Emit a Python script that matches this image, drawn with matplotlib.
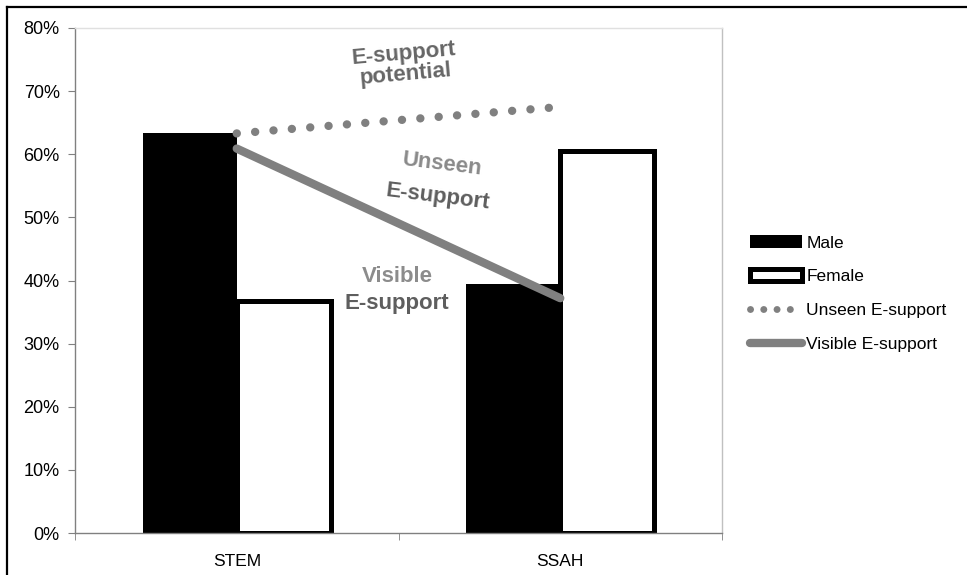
import numpy as np
import matplotlib
matplotlib.use("Agg")
import matplotlib.pyplot as plt
from matplotlib.lines import Line2D

plt.rcParams['font.family'] = ['Liberation Sans', 'DejaVu Sans']

# data
categories = ['STEM', 'SSAH']
male = [63.3, 39.5]
female = [36.7, 60.5]
unseen = [63.3, 67.5]   # dotted "E-support potential" line
visible = [60.9, 37.2]  # solid visible line

fig = plt.figure(figsize=(9.67, 5.75), dpi=100)
ax = fig.add_axes([75 / 967, 42 / 575, 647 / 967, 505 / 575])

x = np.arange(len(categories))
w = 0.29
b1 = ax.bar(x - w / 2, male, w, color='black', edgecolor='black', linewidth=0, label='Male')
b2 = ax.bar(x + w / 2, female, w, color='white', edgecolor='black', linewidth=3.6,
            label='Female', zorder=2)

ax.plot(x, unseen, color='#808080', lw=6, linestyle=(0, (0.01, 2.2)),
        dash_capstyle='round', zorder=3)
l2, = ax.plot(x, visible, color='#808080', lw=6, solid_capstyle='round',
              label='Visible E-support', zorder=3)
# tighter dots for the legend key
l1 = Line2D([], [], color='#808080', lw=5, linestyle=(0, (0.01, 1.9)),
            dash_capstyle='round', label='Unseen E-support')

ax.set_xlim(-0.5, 1.5)
ax.set_ylim(0, 80)
ax.set_yticks(range(0, 81, 10))
ax.set_yticklabels([f'{v}%' for v in range(0, 81, 10)], fontsize=13)
ax.set_xticks(x)
ax.set_xticklabels(categories, fontsize=12.5)
ax.set_xticks([-0.5, 0.5, 1.5], minor=True)
ax.tick_params(axis='x', which='major', length=0, pad=15)
ax.tick_params(axis='x', which='minor', length=5, direction='out', color='#808080')
ax.tick_params(axis='y', length=5, direction='out', color='#808080', pad=6)

ax.spines['left'].set_color('#808080')
ax.spines['bottom'].set_color('#808080')
ax.spines['top'].set_color('#e0e0e0')
ax.spines['right'].set_color('#c0c0c0')
for s in ax.spines.values():
    s.set_linewidth(1)

# annotations inside the plot
ax.text(0.52, 74.3, 'E-support\npotential', fontsize=16, fontweight='bold', color='#666666',
        ha='center', va='center', rotation=5, linespacing=1.0)
ax.text(0.635, 58.4, 'Unseen', fontsize=16, fontweight='bold', color='#8a8a8a',
        ha='center', va='center', rotation=-7)
ax.text(0.62, 53.3, 'E-support', fontsize=16, fontweight='bold', color='#5e5e5e',
        ha='center', va='center', rotation=-7)
ax.text(0.495, 40.6, 'Visible', fontsize=16, fontweight='bold', color='#8c8c8c',
        ha='center', va='center')
ax.text(0.495, 36.3, 'E-support', fontsize=16, fontweight='bold', color='#5e5e5e',
        ha='center', va='center')

leg = fig.legend(handles=[b1, b2, l1, l2], loc='center left',
                 bbox_to_anchor=(750 / 967, 0.489), frameon=False,
                 fontsize=12.5, handlelength=3.0, handletextpad=0.25, labelspacing=1.08,
                 borderpad=0, borderaxespad=0)

# outer border (top and left edges)
fig.add_artist(Line2D([7 / 967, 1], [1 - 7 / 575, 1 - 7 / 575], color='black', lw=1.6,
                      transform=fig.transFigure))
fig.add_artist(Line2D([7 / 967, 7 / 967], [0, 1 - 7 / 575], color='black', lw=1.6,
                      transform=fig.transFigure))

fig.savefig('out.png', dpi=100)
